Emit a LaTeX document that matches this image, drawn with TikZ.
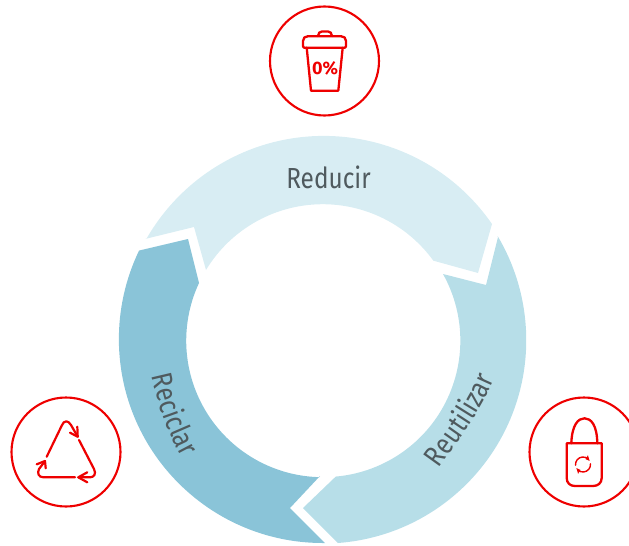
\documentclass[tikz,border=0pt]{standalone}
\usepackage{fontspec}
\setmainfont{Fira Sans}[FakeStretch=0.84]
\newfontfamily\iconfont{Fira Sans}[BoldFont={Fira Sans Bold}]
\usetikzlibrary{decorations.text}
\definecolor{ringlight}{HTML}{D8EDF3}
\definecolor{ringmid}{HTML}{B7DEE8}
\definecolor{ringdark}{HTML}{8AC4D8}
\definecolor{iconred}{HTML}{EE0000}
\definecolor{labelgrey}{HTML}{4F5A5E}
\newcommand{\ringfont}{\fontsize{29}{29}\selectfont}
\tikzset{
  badge/.style={draw=iconred,line width=2.1pt,circle,minimum size=109pt,inner sep=0pt},
  iconline/.style={draw=iconred,line width=2.3pt,line join=round,line cap=round},
  triline/.style={iconline,line width=2.2pt},
  thinicon/.style={draw=iconred,line width=1.4pt,line join=round,line cap=round},
  ringlabel/.style={decorate,decoration={text along path,text align=center,text color=labelgrey,text={#1}}},
}
\begin{document}
\begin{tikzpicture}[x=1pt,y=-1pt]
\useasboundingbox (0,0) rectangle (629,546);
\clip (0,0) rectangle (629,546);
\coordinate (C) at (323,341);
% ring segments
\fill[ringlight] (145,239) -- (194,227) -- (206,270)
  arc[start angle=211.2,end angle=324.1,radius=136.5]
  -- (478,273) -- (492,224)
  arc[start angle=325.3,end angle=209.8,radius=204.5] -- cycle;
\fill[ringmid] (498,237) -- (486,285) -- (443,274)
  arc[start angle=-29.2,end angle=85,radius=136.5]
  -- (303,508) -- (338,543)
  arc[start angle=85.7,end angle=-30.7,radius=203.5] -- cycle;
\fill[ringdark] (320,476) -- (290,508) -- (325,543)
  arc[start angle=89.4,end angle=205.7,radius=204]
  -- (188,239) -- (199,283)
  arc[start angle=205,end angle=91.3,radius=136.5] -- cycle;
% labels along the ring
\node[text=labelgrey,font=\ringfont,inner sep=0pt,anchor=base] (reducir) at (328.5,188) {Reducir};
\path[ringlabel={|\ringfont|Reciclar}] (150,366) .. controls (156,400) and (168,435) .. (187,467);
\path[ringlabel={|\ringfont|Reutilizar}] (432,478) .. controls (452,448) and (482,414) .. (499,368);
% badges
\node[badge] (top) at (324.5,61) {};
\node[badge] (left) at (66,452) {};
\node[badge] (right) at (584,452) {};
% cup
\draw[iconline] (304,47.7) .. controls (303,47.7) and (303,46) .. (303,44) -- (303,41) .. controls (303,38) and (305,36.2) .. (308,36.2) -- (341,36.2) .. controls (344,36.2) and (346,38) .. (346,41) -- (346,44) .. controls (346,46) and (346,47.7) .. (345,47.7) -- cycle;
\draw[iconline] (318,36) .. controls (318,33) and (320,31.5) .. (322,31.5) -- (328,31.5) .. controls (330,31.5) and (332,33) .. (332,36);
\draw[iconline] (306.7,47.7) -- (311,90.7) -- (338.3,90.7) -- (342.7,47.7);
\node[text=iconred,font=\iconfont\bfseries\fontsize{18}{18}\selectfont,inner sep=0pt] (zero) at (325,68) {0\%};
% recycle triangle
\draw[triline] (46.7,456.7) -- (61.7,425.7) .. controls (64,420) and (68,420) .. (71,425) -- (77.7,436.7);
\draw[triline] (77.3,426.7) -- (77.7,436.7) -- (70,432.7);
\draw[triline] (79,440) -- (94,469) .. controls (96.5,474) and (94,477.3) .. (90,477.3) -- (78.3,477.3);
\draw[triline] (87.3,472.3) -- (78.3,477.3) -- (87.3,482.3);
\draw[triline] (75,477.3) -- (43.3,477.3) .. controls (38.5,477.3) and (37,473) .. (39,469) -- (45,461);
\draw[triline] (36.7,464.3) -- (45,461) -- (45.7,468.3);
% bag
\draw[iconline] (566.7,443.3) -- (601.7,443.3) -- (601.7,478) .. controls (601.7,483) and (598,486) .. (593,486) -- (575,486) .. controls (570,486) and (566.7,483) .. (566.7,478) -- cycle;
\draw[iconline] (571.3,443.3) .. controls (572,425) and (578,418.3) .. (584.5,418.3) .. controls (591,418.3) and (597,425) .. (597.3,443.3);
% refresh mark on the bag
\coordinate (R) at (583,464.5);
\draw[thinicon] ([shift={(R)}]175:7.5) arc[start angle=175,end angle=310,radius=7.5];
\draw[thinicon] ([shift={(R)}]-5:7.5) arc[start angle=-5,end angle=130,radius=7.5];
\fill[iconred] ([shift={(R)}]-65:6) -- ([shift={(R)}]-62:10.5) -- ([shift={(R)}]-28:7.5) -- cycle;
\fill[iconred] ([shift={(R)}]115:6) -- ([shift={(R)}]118:10.5) -- ([shift={(R)}]152:7.5) -- cycle;
\end{tikzpicture}
\end{document}
